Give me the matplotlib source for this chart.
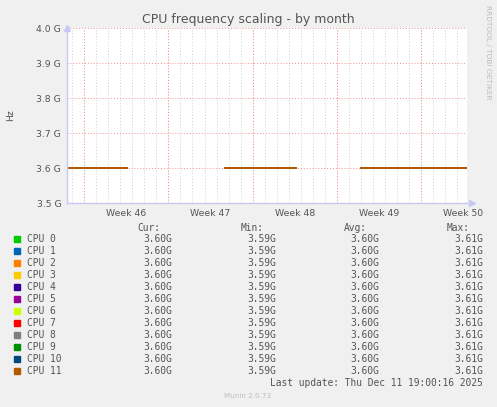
import numpy as np
import matplotlib
matplotlib.use('Agg')
import matplotlib.pyplot as plt

# time axis in days since the start of the month view
span_days = 33.28
first_midnight = 0.466
first_week = 1.464
week_labels = ['Week 46', 'Week 47', 'Week 48', 'Week 49', 'Week 50']

# data segments (the gaps are where no data was collected)
seg_start = [0.0, 13.09, 24.40]
seg_end = [5.07, 19.13, 33.28]

cpus = ['CPU 0', 'CPU 1', 'CPU 2', 'CPU 3', 'CPU 4', 'CPU 5',
        'CPU 6', 'CPU 7', 'CPU 8', 'CPU 9', 'CPU 10', 'CPU 11']
freq = [3.60e9] * 12
cur = ['3.60G'] * 12
mins = ['3.59G'] * 12
avgs = ['3.60G'] * 12
maxs = ['3.61G'] * 12
colors = ['#00CC00', '#0066B3', '#FF8000', '#FFCC00', '#330099', '#990099',
          '#CCFF00', '#FF0000', '#808080', '#008F00', '#00487D', '#B35A00']

W, H = 497, 407
bg = '#F0F0F0'
txt = '#555555'

fig = plt.figure(figsize=(W / 100, H / 100), dpi=100, facecolor=bg)
x0, x1 = 66.7, 466.7
y0, y1 = 203.3, 28.3
ax = fig.add_axes([x0 / W, 1 - y0 / H, (x1 - x0) / W, (y0 - y1) / H])
ax.set_facecolor('white')

for name, f, c in zip(cpus, freq, colors):
    xs, ys = [], []
    for s, e in zip(seg_start, seg_end):
        xs += [s, e, np.nan]
        ys += [f, f, np.nan]
    ax.plot(xs, ys, color=c, linewidth=1.3, solid_capstyle='butt',
            antialiased=False)

ax.set_xlim(0, span_days)
ax.set_ylim(3.5e9, 4.0e9)

# grid
dot = (0, (1, 2))
for d in np.arange(first_midnight, span_days, 1.0):
    ax.axvline(d, color='#D0D0D0', linestyle=dot, linewidth=0.7, zorder=0)
weeks = np.arange(first_week, span_days, 7.0)
for d in weeks:
    ax.axvline(d, color='#F09090', linestyle=dot, linewidth=0.7, zorder=0)
yt = np.arange(3.5e9, 4.01e9, 0.1e9)
for v in yt[1:]:
    ax.axhline(v, color='#F09090', linestyle=dot, linewidth=0.7, zorder=0)

ax.set_yticks(yt)
ax.set_yticklabels(['%.1f G' % (v / 1e9) for v in yt])
centers = weeks + 3.5
ax.set_xticks(centers)
ax.set_xticklabels(week_labels)
ax.tick_params(length=0, labelsize=6.7, colors=txt, pad=4)
for s in ['top', 'right']:
    ax.spines[s].set_visible(False)
for s in ['left', 'bottom']:
    ax.spines[s].set_color('#C8C8F8')
    ax.spines[s].set_linewidth(1.0)
ax.plot([0], [1.0], marker='^', color='#C8C8F8', markersize=4,
        transform=ax.transAxes, clip_on=False)
ax.plot([1.0 + 5 / 400], [0], marker='>', color='#C8C8F8', markersize=4,
        transform=ax.transAxes, clip_on=False)

fig.text(248 / W, 1 - 19 / H, 'CPU frequency scaling - by month',
         ha='center', va='center', fontsize=9, color=txt)
fig.text(11 / W, 1 - 115 / H, 'Hz', rotation=90, ha='center', va='center',
         fontsize=6.7, color=txt)
fig.text(488 / W, 1 - 5 / H, 'RRDTOOL / TOBI OETIKER', rotation=270,
         ha='center', va='top', fontsize=5.3, color='#BBBBBB')

# legend table
mono = 'DejaVu Sans Mono'
fs = 6.9
def ty(y):
    return 1 - y / H
for label, right in zip(['Cur:', 'Min:', 'Avg:', 'Max:'], [160, 263.3, 366.7, 470]):
    fig.text(right / W, ty(227.7), label, ha='right', va='center',
             family=mono, fontsize=fs, color=txt)
for i, name in enumerate(cpus):
    y = 239.3 + 12 * i
    fig.patches.append(plt.Rectangle((14 / W, ty(y + 3)), 6 / W, 6 / H,
                                     transform=fig.transFigure, color=colors[i]))
    fig.text(26.7 / W, ty(y), name, ha='left', va='center',
             family=mono, fontsize=fs, color=txt)
    for val, right in zip([cur[i], mins[i], avgs[i], maxs[i]],
                          [171.7, 276, 379, 482.7]):
        fig.text(right / W, ty(y), val, ha='right', va='center',
                 family=mono, fontsize=fs, color=txt)
fig.text(482.7 / W, ty(383.3), 'Last update: Thu Dec 11 19:00:16 2025',
         ha='right', va='center', family=mono, fontsize=fs, color=txt)
fig.text(248 / W, ty(396), 'Munin 2.0.73', ha='center', va='center',
         fontsize=5.2, color='#C0C0C0')

fig.savefig('out.png', dpi=100, facecolor=bg)
